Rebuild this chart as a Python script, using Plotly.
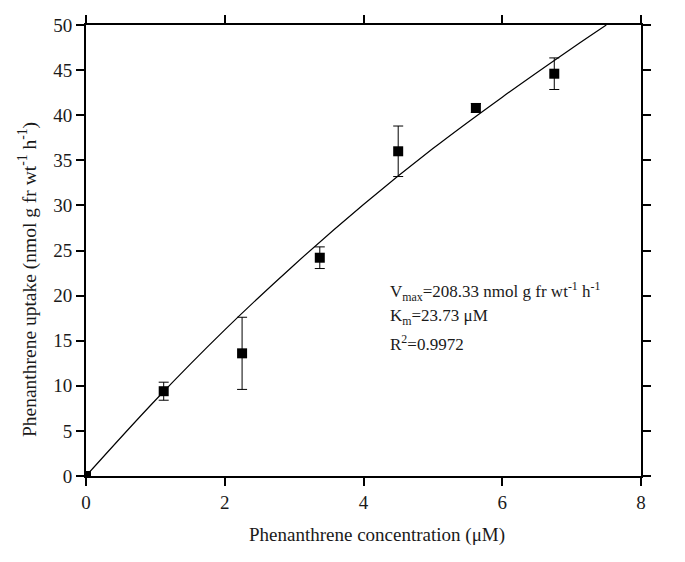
import plotly.graph_objects as go

conc = [0.0, 1.12, 2.25, 3.37, 4.5, 5.62, 6.75]
uptake = [0.0, 9.4, 13.6, 24.2, 36.0, 40.8, 44.6]
err = [0.0, 1.0, 4.0, 1.2, 2.8, 0.5, 1.75]

fit_x = [0, 1, 2, 3, 4, 5, 6, 7, 7.5]
fit_y = [0, 8.4, 16.2, 23.4, 30.1, 36.3, 42.0, 47.4, 50.0]

x_ticks = [0, 2, 4, 6, 8]
y_ticks = [0, 5, 10, 15, 20, 25, 30, 35, 40, 45, 50]

x_title = "Phenanthrene concentration (μM)"
y_title = "Phenanthrene uptake (nmol g fr wt<sup>-1</sup> h<sup>-1</sup>)"
fit_lines = [
    "V<sub>max</sub>=208.33 nmol g fr wt<sup>-1</sup> h<sup>-1</sup>",
    "K<sub>m</sub>=23.73 μM",
    "R<sup>2</sup>=0.9972",
]

FONT = "Liberation Serif"
TXT = "#1a1a1a"

fig = go.Figure()
fig.add_trace(go.Scatter(x=fit_x, y=fit_y, mode="lines", line=dict(color="black", width=1.2),
                         line_shape="spline", showlegend=False, hoverinfo="skip"))
fig.add_trace(go.Scatter(x=conc, y=uptake, mode="markers",
                         marker=dict(symbol="square", size=10, color="black"),
                         error_y=dict(type="data", array=err, color="black", thickness=1, width=5),
                         showlegend=False))

axis_common = dict(showline=True, linecolor="black", linewidth=2, mirror="allticks",
                   ticks="outside", ticklen=8, tickwidth=2, tickcolor="black",
                   showgrid=False, zeroline=False, automargin=False,
                   tickfont=dict(family=FONT, size=19, color=TXT))

fig.update_xaxes(range=[0, 8], tickvals=x_ticks, **axis_common)
fig.update_yaxes(range=[0, 50], tickvals=y_ticks, **axis_common)

fig.add_annotation(x=0.524, y=-0.131, xref="paper", yref="paper", xanchor="center", yanchor="middle",
                   showarrow=False, text=x_title, font=dict(family=FONT, size=19, color=TXT))
fig.add_annotation(x=-0.104, y=0.435, xref="paper", yref="paper", xanchor="center", yanchor="middle",
                   showarrow=False, text=y_title, textangle=-90, font=dict(family=FONT, size=19.5, color=TXT))

for i, t in enumerate(fit_lines):
    fig.add_annotation(x=0.545, y=0.408 - i * 0.056, xref="paper", yref="paper", xanchor="left", yanchor="middle",
                       align="left", showarrow=False, text=t,
                       font=dict(family=FONT, size=17, color=TXT))

fig.update_layout(width=685, height=562, margin=dict(l=78, r=52, t=17, b=94),
                  plot_bgcolor="white", paper_bgcolor="white")

fig.write_html("out.html")
